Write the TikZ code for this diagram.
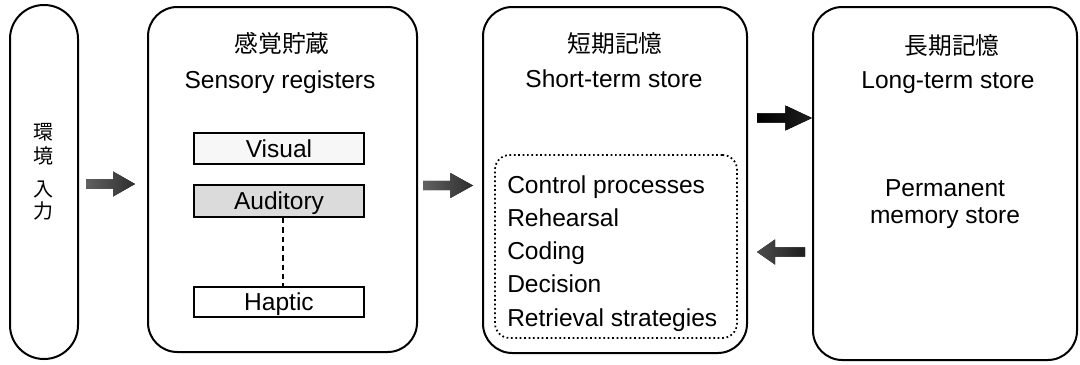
\documentclass[tikz,border=0pt]{standalone}
\usepackage{fontspec}
\setmainfont{Liberation Sans}
\newfontfamily\cjk{Noto Sans CJK JP}
\usetikzlibrary{calc}
\def\u{0.75pt}
\tikzset{
  bigbox/.style={draw=black, line width=1.5pt, rounded corners=22pt, inner sep=0pt},
  pillbox/.style={draw=black, line width=1.5pt, rounded corners=25.4pt, inner sep=0pt},
  regbox/.style={draw=black, line width=1.3pt, inner sep=0pt, minimum width=170*\u},
  dotbox/.style={draw=black, line width=1.3pt, dotted, rounded corners=11pt, inner sep=0pt},
  lat/.style={font=\fontsize{18.4}{22}\selectfont, inner sep=0pt, text height=13.2pt, text depth=0pt},
  kan/.style={font=\cjk\fontsize{17.8}{20}\selectfont, inner sep=0pt, text height=13.5pt, text depth=0pt},
  kansm/.style={font=\cjk\fontsize{15}{16}\selectfont, inner sep=0pt, text height=11.4pt, text depth=0pt},
}
\newcommand{\blockarr}[4]{% tail, tip, signed head length, style
  \fill[#4] let \p1=(#1), \p2=(#2) in
    (\x1,\y1+3.4pt) -- (\x2-#3,\y1+3.4pt) -- (\x2-#3,\y1+9.4pt) -- (\x2,\y1)
    -- (\x2-#3,\y1-9.4pt) -- (\x2-#3,\y1-3.4pt) -- (\x1,\y1-3.4pt) -- cycle;}
\begin{document}
\begin{tikzpicture}[x=0.75pt,y=-0.75pt]
\useasboundingbox (0,0) rectangle (1080,364);
% main boxes
\node[pillbox, minimum width=68*\u, minimum height=354*\u] (pill) at (44,182) {};
\node[bigbox, minimum width=269*\u, minimum height=345*\u] (sens) at (282.5,179.5) {};
\node[bigbox, minimum width=264*\u, minimum height=346*\u] (sts) at (615,180) {};
\node[bigbox, minimum width=264*\u, minimum height=353*\u] (lts) at (945,183.5) {};
% pill text
\node[kansm] (k1) at (43,132) {環};
\node[kansm] (k2) at (43,156) {境};
\node[kansm] (k3) at (43,189) {入};
\node[kansm] (k4) at (43,211) {力};
% sensory
\node[kan] (sensj) at (282,43) {感覚貯蔵};
\node[lat] (sense) at (280,80) {Sensory registers};
\node[regbox, fill=gray!6, minimum height=31*\u] (vis) at (279,148.5) {};
\node[lat] at (vis) {Visual};
\node[regbox, fill=gray!28, minimum height=32*\u] (aud) at (279,201) {};
\node[lat] at (aud) {Auditory};
\node[regbox, minimum height=30*\u] (hap) at (279,302) {};
\node[lat] at (hap) {Haptic};
\draw[line width=0.8pt, dash pattern=on 4pt off 3pt] ($(aud.south)+(4,0)$) -- ($(hap.north)+(4,0)$);
% short-term
\node[kan] (stsj) at (615,43) {短期記憶};
\node[lat] (stse) at (614,79) {Short-term store};
\node[dotbox, minimum width=242*\u, minimum height=183*\u] (ctrl) at (616,246.5) {};
\node[lat, anchor=west] (c1) at (507,185) {Control processes};
\node[lat, anchor=west] (c2) at (507,218) {Rehearsal};
\node[lat, anchor=west] (c3) at (507,251) {Coding};
\node[lat, anchor=west] (c4) at (507,284) {Decision};
\node[lat, anchor=west] (c5) at (507,318) {Retrieval strategies};
% long-term
\node[kan] (ltsj) at (952,45) {長期記憶};
\node[lat] (ltse) at (948,80) {Long-term store};
\node[lat] (perm1) at (945,188) {Permanent};
\node[lat] (perm2) at (945,215) {memory store};
% arrows
\coordinate (a1t) at (86,184);  \coordinate (a1h) at (135,184);
\coordinate (a2t) at (423,185.5); \coordinate (a2h) at (473,185.5);
\coordinate (a3t) at (757,118); \coordinate (a3h) at (812,118);
\coordinate (a4t) at (805,252); \coordinate (a4h) at (757,252);
\blockarr{a1t}{a1h}{16.5pt}{left color=black!62, right color=black!82}
\blockarr{a2t}{a2h}{17pt}{left color=black!62, right color=black!82}
\blockarr{a3t}{a3h}{20pt}{left color=black, right color=black!88}
\blockarr{a4t}{a4h}{-13.5pt}{left color=black!70, right color=black!88}
\end{tikzpicture}
\end{document}
